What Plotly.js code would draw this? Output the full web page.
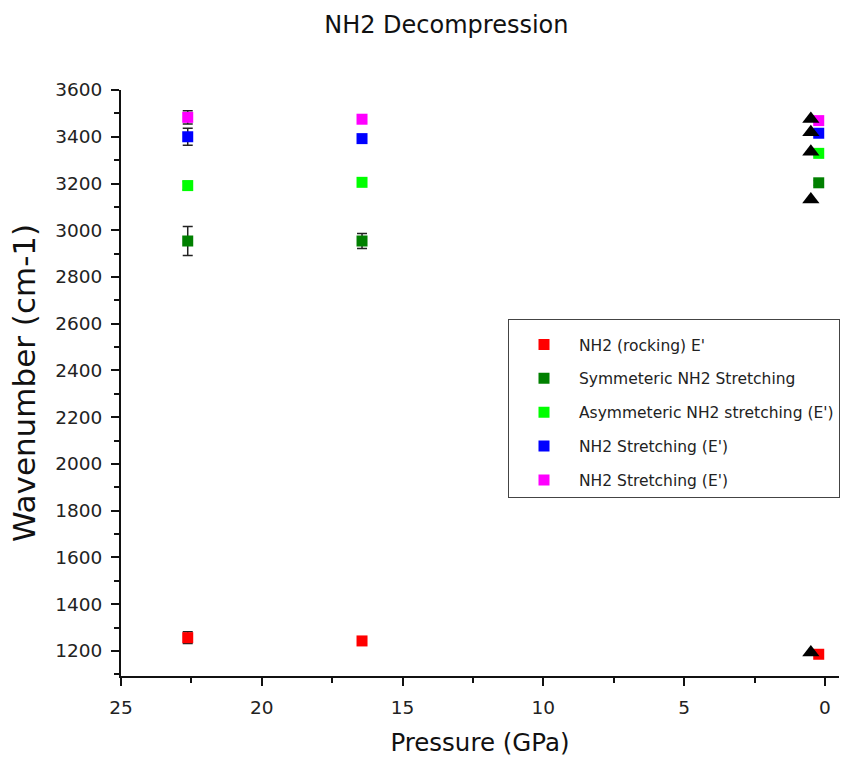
<!DOCTYPE html>
<html>
<head>
<meta charset="utf-8">
<script src="https://cdn.plot.ly/plotly-3.0.1.min.js"></script>
<style>html,body{margin:0;padding:0;background:#fff;}#chart{width:865px;height:757px;}</style>
</head>
<body>
<div id="chart"></div>
<script>
// Pressure (GPa) for the three decompression steps
const pressure = [22.63, 16.44, 0.22];

// Wavenumbers (cm-1) and errors for each mode
const seriesNames = [
  "NH2 (rocking) E'",
  "Symmeteric NH2 Stretching",
  "Asymmeteric NH2 stretching (E')",
  "NH2 Stretching (E')",
  "NH2 Stretching (E')"
];
const rocking      = [1257, 1243, 1186];
const rockingErr   = [25, 12, 6];
const symStretch   = [2954, 2954, 3203];
const symErr       = [62, 32, 10];
const asymStretch  = [3191, 3205, 3329];
const asymErr      = [18, 16, 10];
const stretchE1    = [3400, 3392, 3415];
const stretchE1Err = [36, 10, 10];
const stretchE2    = [3483, 3475, 3469];
const stretchE2Err = [28, 12, 10];

// Ambient-pressure reference points (black triangles)
const refPressure = [0.5, 0.5, 0.5, 0.5, 0.5];
const refWave     = [3476, 3419, 3336, 3132, 1194];

const colors = ['#ff0000', '#008000', '#00ff00', '#0000ff', '#ff00ff'];
const values = [rocking, symStretch, asymStretch, stretchE1, stretchE2];
const errors = [rockingErr, symErr, asymErr, stretchE1Err, stretchE2Err];

const FONT = 'DejaVu Sans, Liberation Sans, Arial, sans-serif';

const traces = values.map((v, i) => ({
  type: 'scatter',
  mode: 'markers',
  x: pressure,
  y: v,
  name: seriesNames[i],
  legendgroup: 'g' + i,
  marker: {symbol: 'square', size: 11, color: colors[i]},
  error_y: {type: 'data', array: errors[i], visible: true, color: '#222', thickness: 1.5, width: 5}
}));

traces.push({
  type: 'scatter',
  mode: 'markers',
  x: refPressure,
  y: refWave,
  showlegend: false,
  marker: {symbol: 'triangle-up', size: 15, color: '#000'}
});

const axisFont = {family: FONT, size: 18.5, color: '#222'};

const layout = {
  width: 865,
  height: 757,
  paper_bgcolor: '#fff',
  plot_bgcolor: '#fff',
  margin: {l: 121, r: 26, t: 90, b: 81},
  font: {family: FONT, color: '#222'},
  title: {
    text: 'NH2 Decompression',
    x: 0.516, xref: 'container', xanchor: 'center',
    y: 0.967, yref: 'container', yanchor: 'middle',
    font: {family: FONT, size: 24, color: '#111'}
  },
  xaxis: {
    range: [25, -0.5],
    tickvals: [25, 20, 15, 10, 5, 0],
    ticks: 'outside', ticklen: 8, tickwidth: 2, tickcolor: '#111',
    ticklabelstandoff: 6,
    minor: {dtick: 2.5, tick0: 0, ticks: 'outside', ticklen: 5, tickwidth: 2, tickcolor: '#111', showgrid: false},
    showline: true, linewidth: 2, linecolor: '#111',
    showgrid: false, zeroline: false,
    tickfont: axisFont,
    title: {text: 'Pressure (GPa)', font: {family: FONT, size: 24.5, color: '#111'}, standoff: 19}
  },
  yaxis: {
    range: [1093, 3600],
    tick0: 1200, dtick: 200,
    ticks: 'outside', ticklen: 8, tickwidth: 2, tickcolor: '#111',
    ticklabelstandoff: 5,
    minor: {dtick: 100, tick0: 1100, ticks: 'outside', ticklen: 5, tickwidth: 2, tickcolor: '#111', showgrid: false},
    showline: true, linewidth: 2, linecolor: '#111',
    showgrid: false, zeroline: false,
    tickfont: axisFont,
    title: {text: 'Wavenumber (cm-1)', font: {family: FONT, size: 31, color: '#111'}, standoff: 10}
  },
  legend: {
    x: 0.539, xanchor: 'left',
    y: 0.609, yanchor: 'top',
    bgcolor: '#fff',
    bordercolor: '#444', borderwidth: 1,
    font: {family: FONT, size: 15.5, color: '#222'},
    tracegroupgap: 10.7,
    itemwidth: 60,
    title: {text: ' ', font: {size: 6}}
  },
  showlegend: true
};

Plotly.newPlot('chart', traces, layout, {displayModeBar: false, staticPlot: true});
</script>
</body>
</html>
